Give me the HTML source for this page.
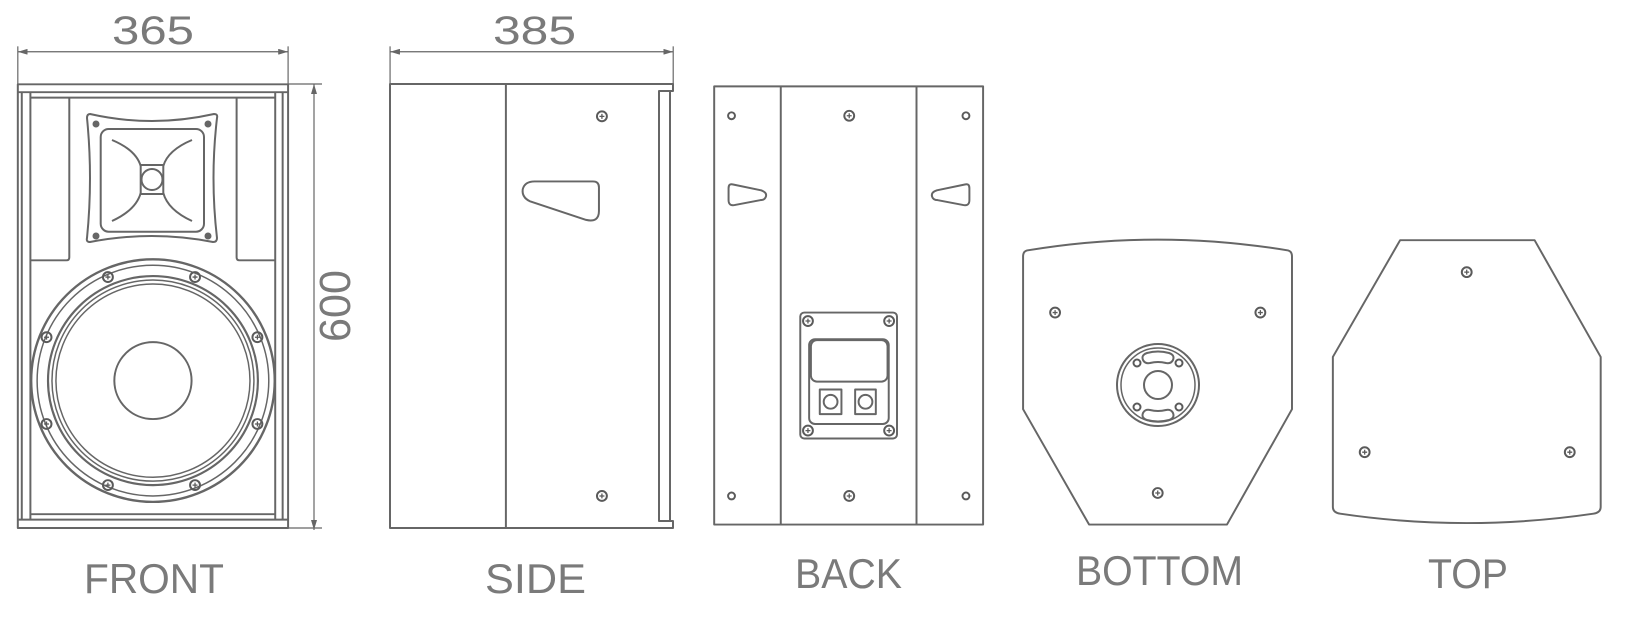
<!DOCTYPE html>
<html><head><meta charset="utf-8"><style>
html,body{margin:0;padding:0;background:#fff;}
svg{display:block;}
text{font-family:"Liberation Sans",sans-serif;fill:#7a7a7a;}
</style></head><body>
<svg width="1628" height="617" viewBox="0 0 1628 617" xmlns="http://www.w3.org/2000/svg">
<defs>
<g id="scr"><circle r="5" fill="none" stroke="#5a5a5a" stroke-width="2"/><path d="M-2.5 0H2.5M0 -2.5V2.5" stroke="#5a5a5a" stroke-width="1.3"/></g>
<g id="sdot"><circle r="3.5" fill="none" stroke="#5a5a5a" stroke-width="2"/></g>
<marker id="ar" viewBox="0 0 10 6" refX="10" refY="3" markerWidth="10" markerHeight="6" orient="auto-start-reverse" markerUnits="userSpaceOnUse"><path d="M0 0L10 3L0 6Z" fill="#666"/></marker>
</defs>
<g fill="none" stroke="#666" stroke-width="2" stroke-linejoin="round">

<g transform="scale(0.99,0.986)">
 <line x1="18" y1="52.5" x2="291" y2="52.5" stroke-width="1.2" marker-start="url(#ar)" marker-end="url(#ar)"/>
 <line x1="18" y1="47" x2="18" y2="86" stroke-width="1.2"/>
 <line x1="291" y1="47" x2="291" y2="86" stroke-width="1.2"/>
 <rect x="18" y="85.5" width="273" height="450"/>
 <line x1="18" y1="93.5" x2="291" y2="93.5"/>
 <line x1="18" y1="527" x2="291" y2="527"/>
 <line x1="22" y1="93.5" x2="22" y2="527"/>
 <line x1="30.7" y1="93.5" x2="30.7" y2="527"/>
 <line x1="278" y1="93.5" x2="278" y2="527"/>
 <line x1="285.5" y1="93.5" x2="285.5" y2="527"/>
 <line x1="30.7" y1="99" x2="278" y2="99"/>
 <line x1="30.7" y1="521.5" x2="278" y2="521.5"/>
 <path d="M70 99V261Q70 264 67 264H30.7"/>
 <path d="M239 99V261Q239 264 242 264H278"/>
 <circle cx="154.5" cy="386" r="123" stroke-width="2.4"/>
 <circle cx="154.5" cy="386" r="117" stroke-width="1.5"/>
 <circle cx="154.5" cy="386" r="106" stroke-width="2.2"/>
 <circle cx="154.5" cy="386" r="102" stroke-width="1.5"/>
 <circle cx="154.5" cy="386" r="98" stroke-width="1.5"/>
 <circle cx="154.5" cy="386" r="39"/>
 <use href="#scr" x="109" y="281"/><use href="#scr" x="197" y="281"/>
 <use href="#scr" x="47" y="342"/><use href="#scr" x="260" y="342"/>
 <use href="#scr" x="47" y="430"/><use href="#scr" x="260" y="430"/>
 <use href="#scr" x="109" y="492"/><use href="#scr" x="197" y="492"/>

 <line x1="394" y1="52.5" x2="680" y2="52.5" stroke-width="1.2" marker-start="url(#ar)" marker-end="url(#ar)"/>
 <line x1="394" y1="47" x2="394" y2="86" stroke-width="1.2"/>
 <line x1="680" y1="47" x2="680" y2="86" stroke-width="1.2"/>
 <line x1="511" y1="85.5" x2="511" y2="535.5"/>
 <use href="#scr" x="608" y="118"/><use href="#scr" x="608" y="503"/>
 <path d="M540 184L599 184Q605 184 605 190L605 214Q605 226 592 223L535 204Q527 200 528 192Q530 184 540 184Z"/>
</g>
<path d="M390 84H673V91H659V521H673V528H390Z"/>
<line x1="670" y1="91" x2="670" y2="521"/>
<line x1="314" y1="84" x2="314" y2="530" stroke-width="1.2" marker-start="url(#ar)" marker-end="url(#ar)"/>
<line x1="288" y1="84" x2="322" y2="84" stroke-width="1.2"/>
<line x1="288" y1="528" x2="322" y2="528" stroke-width="1.2"/>

<path d="M90 114Q152 128 214 114Q218 114 217 118Q210 178 217 238Q217 242 213 242Q152 230 90 242Q86 242 87 238Q93 178 87 118Q87 114 90 114Z"/>
<rect x="100.7" y="129" width="103.3" height="102.7" rx="8"/>
<rect x="140.7" y="165" width="22.6" height="29"/>
<circle cx="152" cy="179.5" r="10.5"/>
<path d="M112 140Q136 150 140.7 166M192 140Q168 150 163.3 166M112 221Q136 210 140.7 193M192 221Q168 210 163.3 193"/>
<circle cx="96" cy="124" r="2.5" fill="#666"/><circle cx="208" cy="124" r="2.5" fill="#666"/>
<circle cx="96" cy="236" r="2.5" fill="#666"/><circle cx="208" cy="236" r="2.5" fill="#666"/>

<g transform="translate(700,0) scale(0.985,0.986) translate(-700,0)">
 <rect x="714.4" y="87.6" width="273" height="444.4"/>
 <line x1="782" y1="87.6" x2="782" y2="532"/>
 <line x1="919.8" y1="87.6" x2="919.8" y2="532"/>
 <use href="#sdot" x="732" y="117.4"/><use href="#sdot" x="970" y="117.4"/>
 <use href="#sdot" x="732" y="503"/><use href="#sdot" x="970" y="503"/>
 <use href="#scr" x="851.5" y="117.4"/><use href="#scr" x="851.5" y="503"/>
 <path d="M733 187L762 193Q768 195 767 199Q766 203 761 203L735 208Q729 209 729 203L729 191Q729 186 733 187Z"/>
 <path d="M969.5 187L940.5 193Q934.5 195 935.5 199Q936.5 203 941.5 203L967.5 208Q973.5 209 973.5 203L973.5 191Q973.5 186 969.5 187Z"/>
 <rect x="801.8" y="317" width="98.2" height="127.7" rx="4"/>
 <use href="#scr" x="809.6" y="325.6"/><use href="#scr" x="892" y="325.6"/>
 <use href="#scr" x="809.6" y="436.7"/><use href="#scr" x="892" y="436.7"/>
 <rect x="810.8" y="344" width="80.8" height="86" rx="6"/>
 <rect x="812.6" y="345" width="77.8" height="42" rx="6"/>
 <rect x="821.6" y="395" width="22" height="25"/>
 <circle cx="832.6" cy="407.5" r="7"/>
 <rect x="857.5" y="395" width="21" height="25"/>
 <circle cx="868" cy="407.5" r="7"/>

 <path d="M1032 254Q1164 232 1297 254Q1301 255 1301 260V415L1235 532H1095L1028 415V260Q1028 255 1032 254Z"/>
 <use href="#scr" x="1060.5" y="317"/><use href="#scr" x="1268.9" y="317"/><use href="#scr" x="1164.7" y="500"/>

 <path d="M1410.8 243.6H1547.3L1614.4 362V514Q1614.4 520 1607 521Q1478 540 1350 521Q1342.5 520 1342.5 514V362Z"/>
 <use href="#scr" x="1478.4" y="276"/><use href="#scr" x="1374.8" y="458.6"/><use href="#scr" x="1583" y="458.6"/>
</g>
<circle cx="1158" cy="385" r="41"/>
<circle cx="1158" cy="385" r="37" stroke-width="1.5"/>
<circle cx="1158" cy="385" r="14"/>
<path d="M1147 353Q1158 350 1169 353Q1175 355 1173 360Q1171 364 1166 363Q1158 361 1150 363Q1145 364 1143 360Q1141 355 1147 353Z"/>
<path d="M1147 420Q1158 423 1169 420Q1175 418 1173 413Q1171 409 1166 410Q1158 412 1150 410Q1145 409 1143 413Q1141 418 1147 420Z"/>
<use href="#sdot" x="1137" y="363"/><use href="#sdot" x="1179" y="363"/>
<use href="#sdot" x="1137" y="407"/><use href="#sdot" x="1179" y="407"/>
</g>

<text x="112" y="44" font-size="40" textLength="82" lengthAdjust="spacingAndGlyphs">365</text>
<text x="493" y="44" font-size="40" textLength="83" lengthAdjust="spacingAndGlyphs">385</text>
<text transform="translate(350,306) rotate(-90)" text-anchor="middle" font-size="44" textLength="72" lengthAdjust="spacingAndGlyphs">600</text>
<text x="84" y="593" font-size="42" textLength="140" lengthAdjust="spacingAndGlyphs">FRONT</text>
<text x="485" y="593" font-size="42" textLength="101" lengthAdjust="spacingAndGlyphs">SIDE</text>
<text x="795" y="588" font-size="42" textLength="107" lengthAdjust="spacingAndGlyphs">BACK</text>
<text x="1076" y="585" font-size="42" textLength="167" lengthAdjust="spacingAndGlyphs">BOTTOM</text>
<text x="1428" y="588" font-size="42" textLength="80" lengthAdjust="spacingAndGlyphs">TOP</text>
</svg>
</body></html>
